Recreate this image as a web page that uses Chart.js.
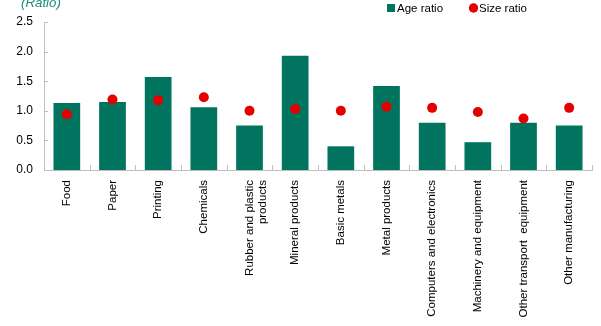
<!DOCTYPE html>
<html>
<head>
<meta charset="utf-8">
<script src="https://cdn.jsdelivr.net/npm/chart.js@4/dist/chart.umd.min.js"></script>
<style>
  html, body { margin: 0; padding: 0; background: #fff; }
  #wrap { width: 601px; height: 326px; position: relative; }
</style>
</head>
<body>
<div id="wrap"><canvas id="myChart"></canvas></div>
<script>
const categories = [
  "Food", "Paper", "Printing", "Chemicals",
  ["Rubber and plastic", "products"], "Mineral products", "Basic metals",
  "Metal products", "Computers and electronics", "Machinery and equipment",
  "Other transport  equipment", "Other manufacturing"
];
const ageRatio = [1.13, 1.15, 1.57, 1.06, 0.75, 1.93, 0.40, 1.42, 0.80, 0.47, 0.80, 0.75];
const sizeRatio = [0.94, 1.19, 1.18, 1.23, 1.00, 1.03, 1.00, 1.07, 1.05, 0.98, 0.87, 1.05];
const yTicks = [0, 0.5, 1.0, 1.5, 2.0, 2.5];

const TEAL = "#00745f";
const RED = "#e40000";
const AXIS = "#bfbfbf";
const FONT = "'Liberation Sans', Arial, sans-serif";

// inward tick marks, unit label and legend
const extras = {
  id: "extras",
  afterDraw(chart) {
    const ctx = chart.ctx;
    const x = chart.scales.x, y = chart.scales.y;
    const area = chart.chartArea;
    ctx.save();
    ctx.strokeStyle = AXIS;
    ctx.lineWidth = 1;
    ctx.beginPath();
    yTicks.forEach(v => {
      const py = Math.round(y.getPixelForValue(v)) + 0.5;
      ctx.moveTo(area.left, py);
      ctx.lineTo(area.left + 4, py);
    });
    for (let i = 0; i <= categories.length; i++) {
      const px = Math.round(x.getPixelForValue(i - 0.5)) + 0.5;
      ctx.moveTo(px, area.bottom);
      ctx.lineTo(px, area.bottom - 5);
    }
    ctx.stroke();

    ctx.font = "italic 13.3px " + FONT;
    ctx.fillStyle = "#1b8c78";
    ctx.textBaseline = "alphabetic";
    ctx.textAlign = "left";
    ctx.fillText("(Ratio)", 21, 6.5);

    ctx.font = "11.5px " + FONT;
    ctx.textBaseline = "middle";
    ctx.fillStyle = TEAL;
    ctx.fillRect(387, 4, 8, 8);
    ctx.fillStyle = "#000";
    ctx.fillText("Age ratio", 397, 8.5);
    ctx.fillStyle = RED;
    ctx.beginPath();
    ctx.arc(473.5, 8, 4.7, 0, Math.PI * 2);
    ctx.fill();
    ctx.fillStyle = "#000";
    ctx.fillText("Size ratio", 479, 8.5);
    ctx.restore();
  }
};

Chart.defaults.font.family = FONT;
Chart.defaults.font.size = 11.5;
Chart.defaults.color = "#000";

new Chart(document.getElementById("myChart"), {
  type: "bar",
  data: {
    labels: categories,
    datasets: [
      {
        type: "line",
        label: "Size ratio",
        data: sizeRatio,
        showLine: false,
        pointRadius: 5,
        pointHoverRadius: 5,
        pointBackgroundColor: RED,
        pointBorderWidth: 0,
        order: 1
      },
      {
        label: "Age ratio",
        data: ageRatio,
        backgroundColor: TEAL,
        categoryPercentage: 1,
        barPercentage: 0.585,
        order: 2
      }
    ]
  },
  plugins: [extras],
  options: {
    responsive: true,
    maintainAspectRatio: false,
    animation: false,
    layout: { padding: { top: 22, right: 9, left: 0, bottom: 0 } },
    plugins: {
      legend: { display: false },
      tooltip: { enabled: false }
    },
    scales: {
      x: {
        grid: { display: false, drawTicks: false },
        border: { display: true, color: AXIS, width: 1 },
        ticks: { autoSkip: false, maxRotation: 90, minRotation: 90, padding: 10 },
        afterFit: s => { s.height = 156; }
      },
      y: {
        min: 0,
        max: 2.5,
        grid: { display: false, drawTicks: false },
        border: { display: true, color: AXIS, width: 1 },
        ticks: { stepSize: 0.5, padding: 11, font: { size: 12 }, callback: v => v.toFixed(1) },
        afterFit: s => { s.width = 44; }
      }
    }
  }
});
</script>
</body>
</html>
